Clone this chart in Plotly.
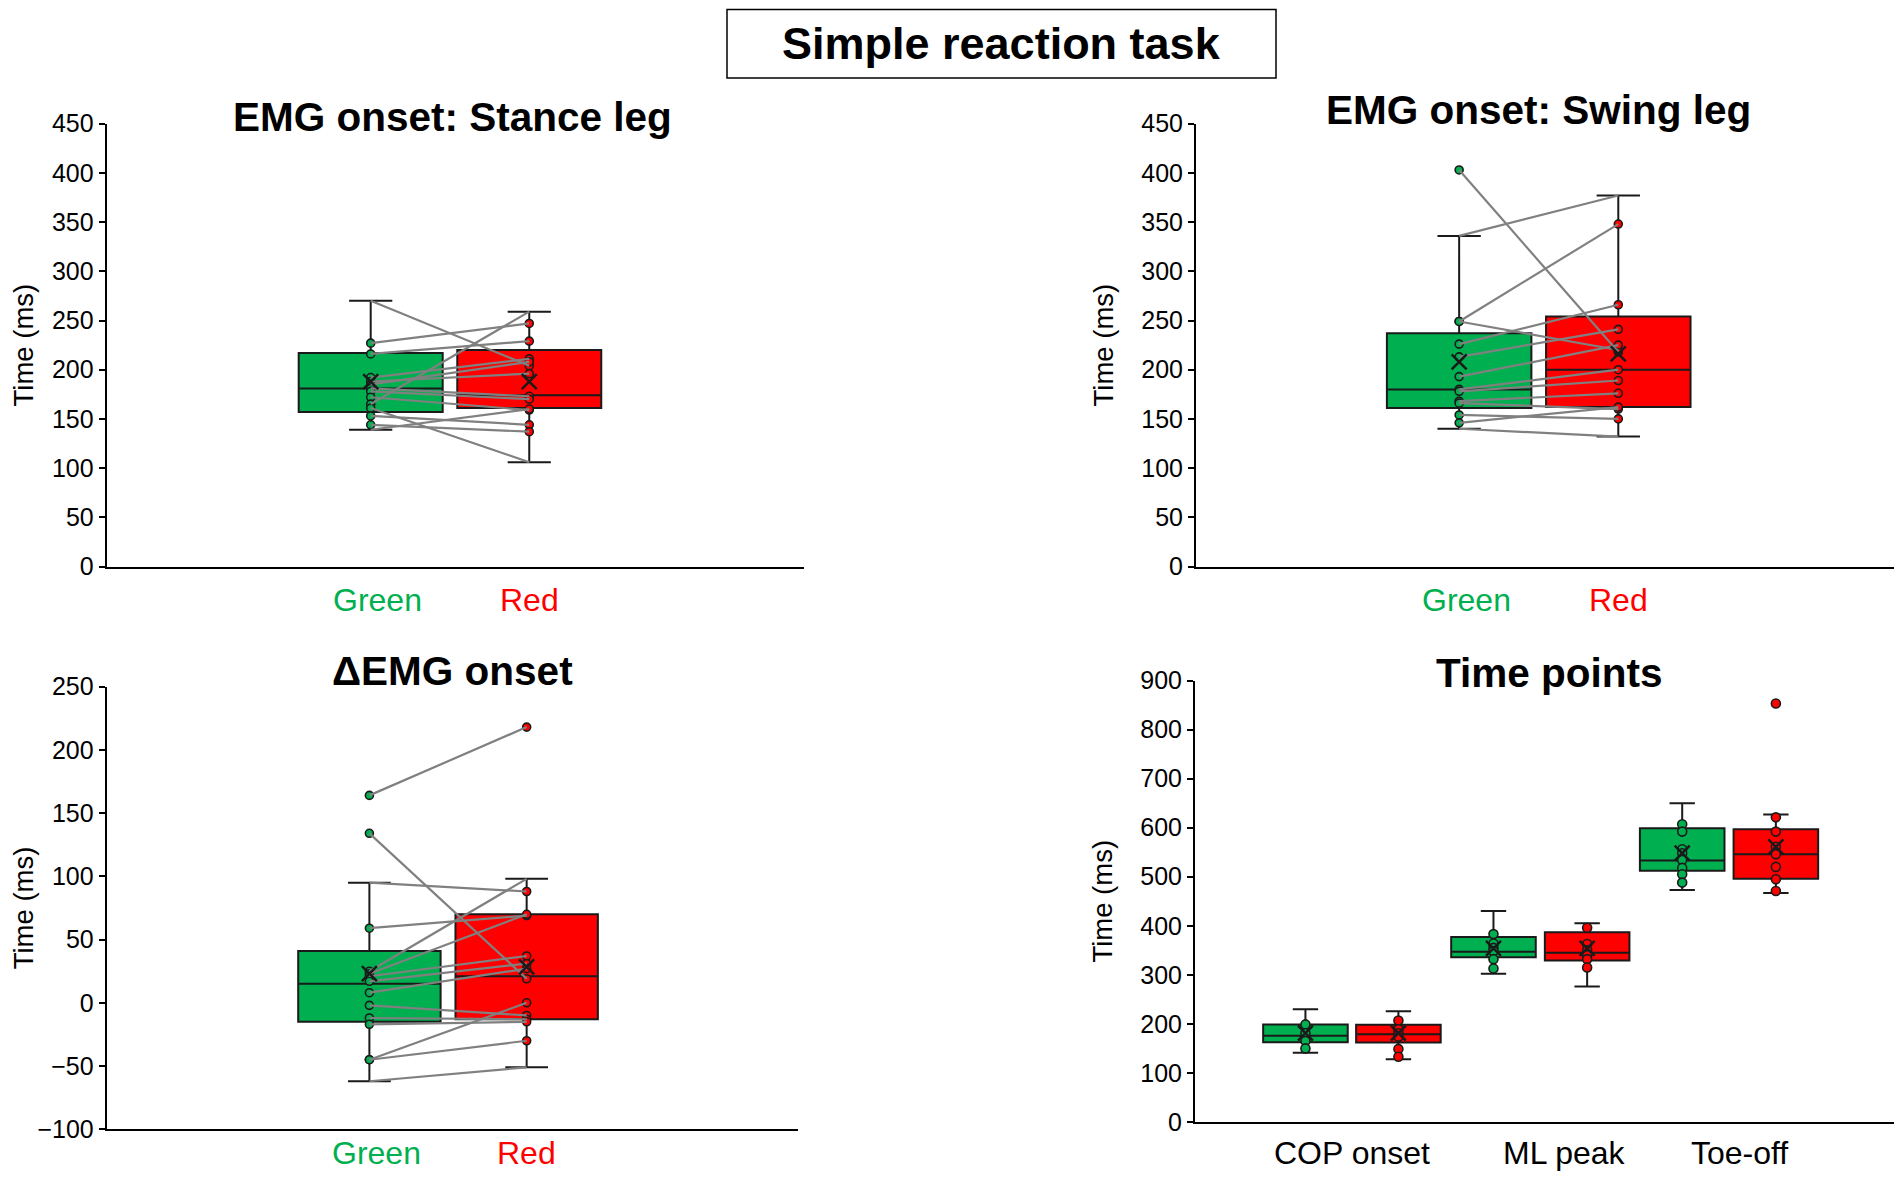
import plotly.graph_objects as go

# ---------------- data (ms) ----------------
groups = ["Green", "Red"]
timepoints = ["COP onset", "ML peak", "Toe-off"]

# EMG onset: stance leg (paired subjects)
stance_green = [270, 227, 216, 192, 188, 185, 181, 178, 172, 165, 161, 153, 144, 139]
stance_red = [204, 247, 229, 211, 196, 208, 173, 170, 159, 259, 106, 144, 137, 160]
stance_stats = {  # q1, median, q3, lower whisker, upper whisker, mean
    "Green": [157, 181, 217, 139, 270, 188],
    "Red": [161, 174, 220, 106, 259, 188],
}

# EMG onset: swing leg
swing_green = [403, 336, 249, 249, 226, 213, 193, 180, 178, 168, 166, 154, 146, 140]
swing_red = [218, 377, 348, 220, 266, 241, 225, 200, 189, 176, 160, 150, 162, 132]
swing_stats = {
    "Green": [161, 180, 237, 140, 336, 208],
    "Red": [162, 200, 254, 132, 377, 216],
}

# delta EMG onset
delta_green = [164, 134, 95, 59, 25, 23, 21, 17, 8, -2, -12, -17, -45, -45, -62]
delta_red = [218, 19, 88, 69, 98, 70, 37, 31, 27, -10, -13, -15, 0, -30, -51]
delta_stats = {
    "Green": [-15, 15, 41, -62, 95, 23],
    "Red": [-13, 21, 70, -51, 98, 28.5],
}

# time points (not paired)
cop_green = [230, 199, 181, 165, 150, 141]
cop_red = [226, 207, 189, 181, 174, 149, 133, 128]
ml_green = [430, 383, 364, 355, 348, 332, 313, 302]
ml_red = [405, 396, 363, 350, 340, 332, 315, 276]
toe_green = [650, 607, 592, 556, 548, 534, 518, 505, 488, 473]
toe_red = [853, 627, 621, 592, 561, 546, 520, 495, 471, 467]
tp_stats = [
    [162.5, 176, 199, 141, 230, 181],
    [162, 179, 198, 128, 226, 181],
    [336, 347, 377, 302, 430, 354],
    [329, 345, 387, 276, 405, 354],
    [512, 533, 599, 473, 650, 548],
    [496, 546, 597, 467, 627, 561],
]
tp_values = [cop_green, cop_red, ml_green, ml_red, toe_green, toe_red]

# ---------------- style ----------------
FONT = "Liberation Sans, Arial, sans-serif"
GREEN = "#00B050"
RED = "#FF0000"
DARK = "#1a1a1a"
GREY = "#808080"
PAD = 8  # page margin of the browser
W, H = 1902 - 2 * PAD, 1183 - 2 * PAD

fig = go.Figure()


def add_box(ax, pos, width, stats, fill):
    q1, med, q3, lo, hi, mean = stats
    fig.add_trace(go.Box(
        x=[pos], q1=[q1], median=[med], q3=[q3], lowerfence=[lo], upperfence=[hi],
        width=width, whiskerwidth=0.3, fillcolor=fill, boxpoints=False,
        line=dict(color=DARK, width=2), xaxis="x" + ax, yaxis="y" + ax,
        showlegend=False, hoverinfo="skip"))


def add_points(ax, pos, vals, stats, fill, size=8):
    lo, hi = stats[3], stats[4]
    ys = [v for v in vals if v != lo and v != hi]
    fig.add_trace(go.Scatter(
        x=[pos] * len(ys), y=ys, mode="markers", xaxis="x" + ax, yaxis="y" + ax,
        marker=dict(size=size, color=fill, line=dict(color=DARK, width=1.6)),
        showlegend=False, hoverinfo="skip"))


def add_mean(ax, pos, stats):
    fig.add_trace(go.Scatter(
        x=[pos], y=[stats[5]], mode="markers", xaxis="x" + ax, yaxis="y" + ax,
        marker=dict(symbol="x-thin", size=15, line=dict(color=DARK, width=2.5)),
        showlegend=False, hoverinfo="skip"))


def add_pairs(ax, xg, xr, g, r):
    xs, ys = [], []
    for a, b in zip(g, r):
        xs += [xg, xr, None]
        ys += [a, b, None]
    fig.add_trace(go.Scatter(
        x=xs, y=ys, mode="lines", xaxis="x" + ax, yaxis="y" + ax,
        line=dict(color=GREY, width=2.2), showlegend=False, hoverinfo="skip"))


paired = [
    ("", 0.3786, 0.606, 0.2065, stance_green, stance_red, stance_stats),
    ("2", 0.377, 0.605, 0.207, swing_green, swing_red, swing_stats),
    ("3", 0.380, 0.6075, 0.206, delta_green, delta_red, delta_stats),
]
for ax, xg, xr, bw, g, r, st in paired:
    add_box(ax, xg, bw, st["Green"], GREEN)
    add_box(ax, xr, bw, st["Red"], RED)
    add_points(ax, xg, g, st["Green"], GREEN)
    add_points(ax, xr, r, st["Red"], RED)
    add_pairs(ax, xg, xr, g, r)
    add_mean(ax, xg, st["Green"])
    add_mean(ax, xr, st["Red"])

tp_pos = [0.158, 0.291, 0.427, 0.561, 0.697, 0.831]
for i, (pos, vals, st) in enumerate(zip(tp_pos, tp_values, tp_stats)):
    col = GREEN if i % 2 == 0 else RED
    add_box("4", pos, 0.121, st, col)
    add_points("4", pos, vals, st, col, size=9)
    add_mean("4", pos, st)


# ---------------- layout ----------------
# positions below are window pixels, converted to paper coordinates
def px(x):
    return (x - PAD) / W


def py(y):
    return 1 - (y - PAD) / H


tick = dict(family=FONT, size=25, color="black")
yax = dict(showline=True, linecolor="black", linewidth=2, ticks="outside", ticklen=6,
           tickwidth=2, tickcolor="black", showgrid=False, zeroline=False,
           tickfont=tick, automargin=False,
           title=dict(text="Time (ms)", font=dict(family=FONT, size=27.5, color="black"),
                      standoff=20))
xax = dict(showline=True, linecolor="black", linewidth=2, ticks="", showticklabels=False,
           showgrid=False, zeroline=False, range=[0, 1], automargin=False)

dom_top = [py(566.5), py(123.7)]
fig.update_layout(
    width=W, height=H, margin=dict(l=0, r=0, t=0, b=0),
    paper_bgcolor="white", plot_bgcolor="white",
    xaxis=dict(xax, domain=[px(106.7), px(804)], anchor="y"),
    yaxis=dict(yax, domain=dom_top, range=[0, 450], dtick=50, anchor="x"),
    xaxis2=dict(xax, domain=[px(1196), px(1894)], anchor="y2"),
    yaxis2=dict(yax, domain=dom_top, range=[0, 450], dtick=50, anchor="x2"),
    xaxis3=dict(xax, domain=[px(106.7), px(798)], anchor="y3"),
    yaxis3=dict(yax, domain=[py(1129.3), py(686.6)], range=[-100, 250], dtick=50, anchor="x3"),
    xaxis4=dict(xax, domain=[px(1195), px(1894)], anchor="y4"),
    yaxis4=dict(yax, domain=[py(1122), py(680.5)], range=[0, 900], dtick=100, anchor="x4"),
)

title_font = dict(family=FONT, size=40.5, color="black")
ann = [
    dict(text="<b>Simple reaction task</b>", x=px(1002), y=py(43),
         font=dict(family=FONT, size=45, color="black")),
    dict(text="<b>EMG onset: Stance leg</b>", x=px(452), y=py(117), font=title_font),
    dict(text="<b>EMG onset: Swing leg</b>", x=px(1538), y=py(110), font=title_font),
    dict(text="<b>ΔEMG onset</b>", x=px(452), y=py(671), font=title_font),
    dict(text="<b>Time points</b>", x=px(1549), y=py(673), font=title_font),
]
for a in ann:
    a.update(xref="paper", yref="paper", showarrow=False, xanchor="center", yanchor="middle")

# category labels under the panels
cat_font = 32
for ax, xg, xr, _, _, _, _ in paired:
    ylab = py(1153) if ax == "3" else py(600)
    for name, pos, col in zip(groups, [xg + 0.01, xr], [GREEN, RED]):
        ann.append(dict(text=name, x=pos, y=ylab, xref="x" + ax, yref="paper",
                        showarrow=False, xanchor="center", yanchor="middle",
                        font=dict(family=FONT, size=cat_font, color=col)))
for name, pos in zip(timepoints, [0.224, 0.529, 0.779]):
    ann.append(dict(text=name, x=pos, y=py(1153), xref="x4", yref="paper",
                    showarrow=False, xanchor="center", yanchor="middle",
                    font=dict(family=FONT, size=cat_font, color="black")))

fig.update_layout(annotations=ann)
fig.add_shape(type="rect", xref="paper", yref="paper",
              x0=px(727), x1=px(1276), y0=py(78), y1=py(9.5),
              line=dict(color="black", width=1.5))

fig.write_html("out.html")
